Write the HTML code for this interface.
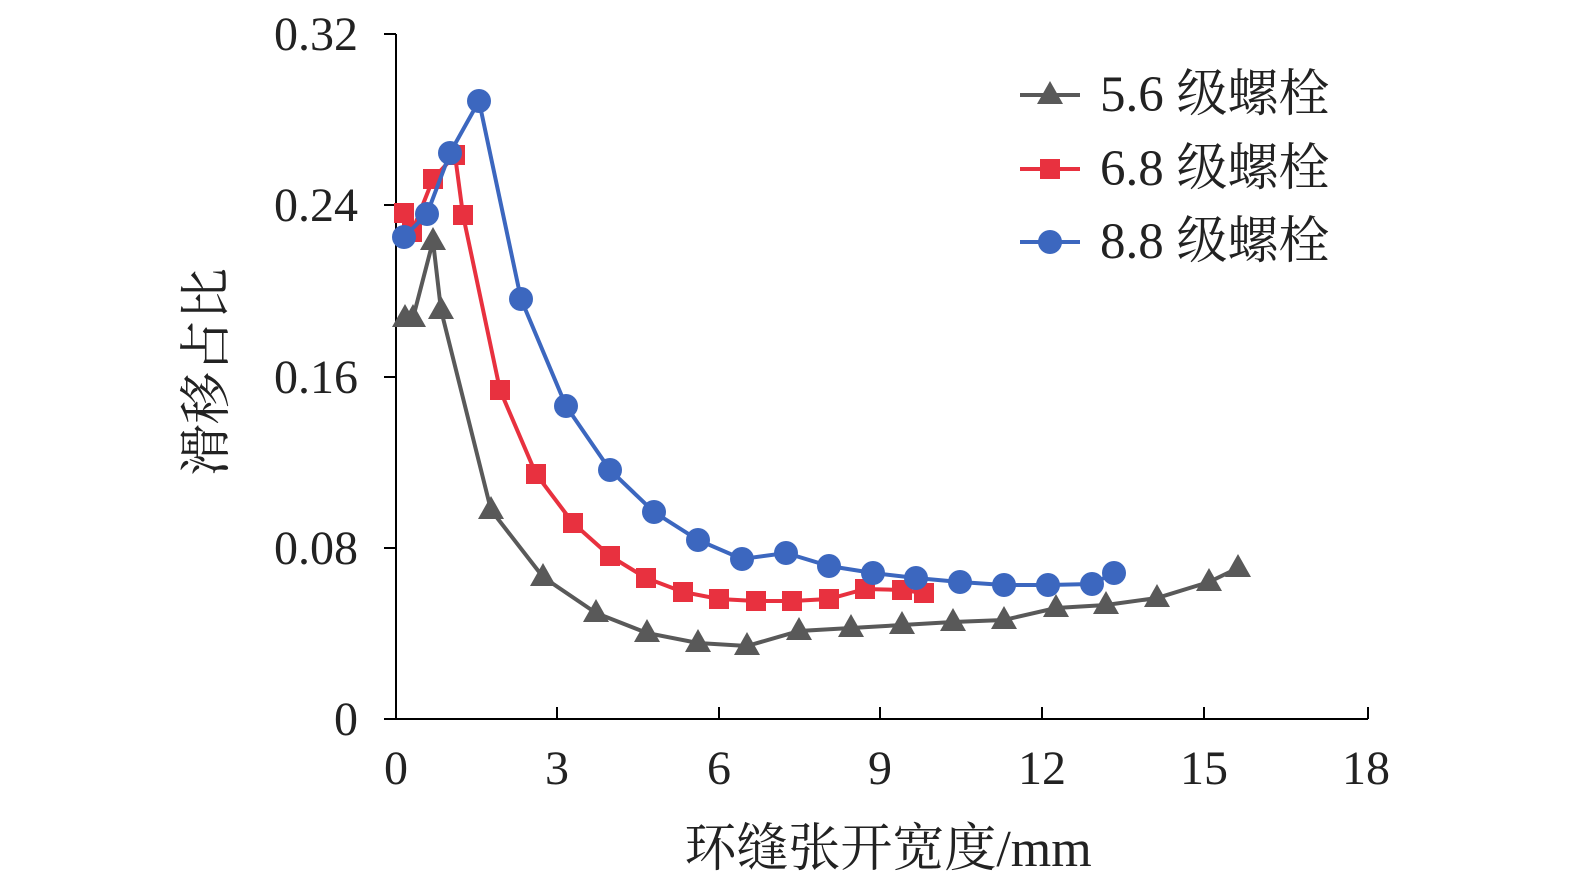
<!DOCTYPE html>
<html><head><meta charset="utf-8"><style>
html,body{margin:0;padding:0;background:#fff;}
svg{display:block;font-family:"Liberation Serif","Noto Serif CJK SC",serif;}
</style></head><body>
<svg width="1575" height="890" viewBox="0 0 1575 890" xmlns="http://www.w3.org/2000/svg">
<g stroke="#000" stroke-width="2" fill="none">
<line x1="396" y1="34" x2="396" y2="719"/>
<line x1="396" y1="719" x2="1368" y2="719"/>
<line x1="384" y1="34" x2="396" y2="34"/>
<line x1="384" y1="205" x2="396" y2="205"/>
<line x1="384" y1="377" x2="396" y2="377"/>
<line x1="384" y1="548" x2="396" y2="548"/>
<line x1="384" y1="719" x2="396" y2="719"/>
<line x1="557" y1="719" x2="557" y2="707"/>
<line x1="719" y1="719" x2="719" y2="707"/>
<line x1="880" y1="719" x2="880" y2="707"/>
<line x1="1042" y1="719" x2="1042" y2="707"/>
<line x1="1204" y1="719" x2="1204" y2="707"/>
<line x1="1368" y1="719" x2="1368" y2="707"/>
</g>
<g font-size="48" fill="#222" text-anchor="end">
<text x="358" y="50">0.32</text>
<text x="358" y="221">0.24</text>
<text x="358" y="393">0.16</text>
<text x="358" y="564">0.08</text>
<text x="358" y="735">0</text>
</g>
<g font-size="48" fill="#222" text-anchor="middle">
<text x="396" y="784">0</text>
<text x="557" y="784">3</text>
<text x="719" y="784">6</text>
<text x="880" y="784">9</text>
<text x="1042" y="784">12</text>
<text x="1204" y="784">15</text>
<text x="1366" y="784">18</text>
</g>
<text x="888" y="866" font-size="52" fill="#222" text-anchor="middle">环缝张开宽度/mm</text>
<text transform="translate(224,372) rotate(-90)" font-size="52" fill="#222" text-anchor="middle">滑移占比</text>

<polyline fill="none" stroke="#595959" stroke-width="4" points="405,318 413,318 433,241 441,310 491,510 543,577 596,613 647,633 698,643 747,646 799,631 851,628 902,625 953,622 1004,620 1056,608 1106,605 1157,598 1209,582 1238,568"/>
<g fill="#595959">
<path d="M0,-14 L13,9 L-13,9 Z" transform="translate(405,318)"/>
<path d="M0,-14 L13,9 L-13,9 Z" transform="translate(413,318)"/>
<path d="M0,-14 L13,9 L-13,9 Z" transform="translate(433,241)"/>
<path d="M0,-14 L13,9 L-13,9 Z" transform="translate(441,310)"/>
<path d="M0,-14 L13,9 L-13,9 Z" transform="translate(491,510)"/>
<path d="M0,-14 L13,9 L-13,9 Z" transform="translate(543,577)"/>
<path d="M0,-14 L13,9 L-13,9 Z" transform="translate(596,613)"/>
<path d="M0,-14 L13,9 L-13,9 Z" transform="translate(647,633)"/>
<path d="M0,-14 L13,9 L-13,9 Z" transform="translate(698,643)"/>
<path d="M0,-14 L13,9 L-13,9 Z" transform="translate(747,646)"/>
<path d="M0,-14 L13,9 L-13,9 Z" transform="translate(799,631)"/>
<path d="M0,-14 L13,9 L-13,9 Z" transform="translate(851,628)"/>
<path d="M0,-14 L13,9 L-13,9 Z" transform="translate(902,625)"/>
<path d="M0,-14 L13,9 L-13,9 Z" transform="translate(953,622)"/>
<path d="M0,-14 L13,9 L-13,9 Z" transform="translate(1004,620)"/>
<path d="M0,-14 L13,9 L-13,9 Z" transform="translate(1056,608)"/>
<path d="M0,-14 L13,9 L-13,9 Z" transform="translate(1106,605)"/>
<path d="M0,-14 L13,9 L-13,9 Z" transform="translate(1157,598)"/>
<path d="M0,-14 L13,9 L-13,9 Z" transform="translate(1209,582)"/>
<path d="M0,-14 L13,9 L-13,9 Z" transform="translate(1238,568)"/>
</g>

<polyline fill="none" stroke="#e8313f" stroke-width="4" points="404,213 412,232 433,179 455,155 463,215 500,390 536,474 573,523 610,556 646,578 683,592 719,599 756,601 792,601 829,599 865,589 902,590 924,593"/>
<g fill="#e8313f">
<rect x="394" y="203" width="20" height="20"/><rect x="402" y="222" width="20" height="20"/>
<rect x="423" y="169" width="20" height="20"/><rect x="445" y="145" width="20" height="20"/>
<rect x="453" y="205" width="20" height="20"/><rect x="490" y="380" width="20" height="20"/>
<rect x="526" y="464" width="20" height="20"/><rect x="563" y="513" width="20" height="20"/>
<rect x="600" y="546" width="20" height="20"/><rect x="636" y="568" width="20" height="20"/>
<rect x="673" y="582" width="20" height="20"/><rect x="709" y="589" width="20" height="20"/>
<rect x="746" y="591" width="20" height="20"/><rect x="782" y="591" width="20" height="20"/>
<rect x="819" y="589" width="20" height="20"/><rect x="855" y="579" width="20" height="20"/>
<rect x="892" y="580" width="20" height="20"/><rect x="914" y="583" width="20" height="20"/>
</g>

<polyline fill="none" stroke="#3c67bf" stroke-width="4" points="404,237 427,214 450,153 479,101 521,299 566,406 610,470 654,512 698,540 742,559 786,553 829,566 873,573 916,578 960,582 1004,585 1048,585 1092,584 1114,573"/>
<g fill="#3c67bf">
<circle cx="404" cy="237" r="12"/><circle cx="427" cy="214" r="12"/><circle cx="450" cy="153" r="12"/>
<circle cx="479" cy="101" r="12"/><circle cx="521" cy="299" r="12"/><circle cx="566" cy="406" r="12"/>
<circle cx="610" cy="470" r="12"/><circle cx="654" cy="512" r="12"/><circle cx="698" cy="540" r="12"/>
<circle cx="742" cy="559" r="12"/><circle cx="786" cy="553" r="12"/><circle cx="829" cy="566" r="12"/>
<circle cx="873" cy="573" r="12"/><circle cx="916" cy="578" r="12"/><circle cx="960" cy="582" r="12"/>
<circle cx="1004" cy="585" r="12"/><circle cx="1048" cy="585" r="12"/><circle cx="1092" cy="584" r="12"/>
<circle cx="1114" cy="573" r="12"/>
</g>

<line x1="1020" y1="95" x2="1080" y2="95" stroke="#595959" stroke-width="4"/>
<path d="M0,-14 L13,9 L-13,9 Z" transform="translate(1050,95)" fill="#595959"/>
<line x1="1020" y1="169" x2="1080" y2="169" stroke="#e8313f" stroke-width="4"/>
<rect x="1040" y="159" width="20" height="20" fill="#e8313f"/>
<line x1="1020" y1="242" x2="1080" y2="242" stroke="#3c67bf" stroke-width="4"/>
<circle cx="1050" cy="242" r="12" fill="#3c67bf"/>
<g font-size="51" fill="#222">
<text x="1100" y="111">5.6 级螺栓</text>
<text x="1100" y="185">6.8 级螺栓</text>
<text x="1100" y="258">8.8 级螺栓</text>
</g>
</svg>
</body></html>
